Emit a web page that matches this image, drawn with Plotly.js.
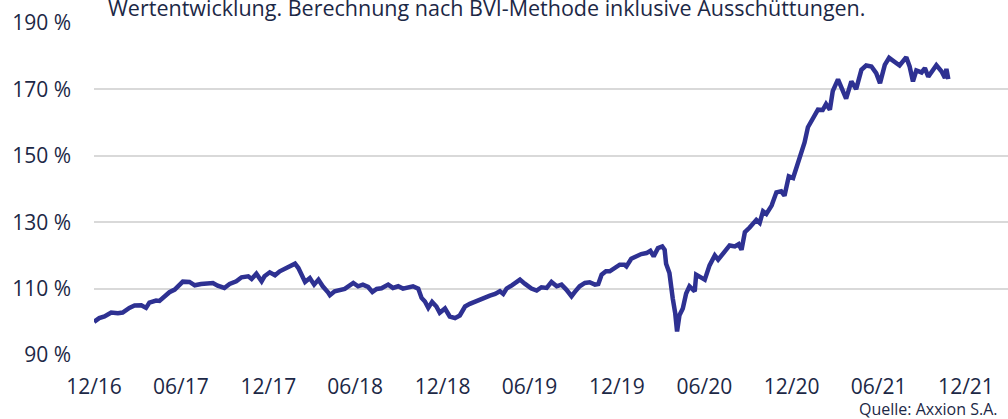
<!DOCTYPE html>
<html>
<head>
<meta charset="utf-8">
<script src="https://cdn.plot.ly/plotly-3.0.1.min.js"></script>
<style>
html,body{margin:0;padding:0;background:#fff;}
#chart{width:1008px;height:419px;}
</style>
</head>
<body>
<div id="chart"></div>
<script>
const dates = [
"2016-12-30","2017-01-10","2017-01-21","2017-02-04","2017-02-18","2017-02-28","2017-03-14","2017-03-25","2017-04-08","2017-04-18",
"2017-04-25","2017-05-09","2017-05-16","2017-05-27","2017-06-06","2017-06-17","2017-06-24","2017-07-04","2017-07-18","2017-07-29",
"2017-08-11","2017-08-25","2017-09-05","2017-09-15","2017-09-29","2017-10-10","2017-10-24","2017-11-04","2017-11-18","2017-11-25",
"2017-12-05","2017-12-16","2017-12-22","2018-01-02","2018-01-13","2018-01-23","2018-02-03","2018-02-13","2018-02-24","2018-03-03",
"2018-03-10","2018-03-17","2018-03-27","2018-04-05","2018-04-14","2018-04-23","2018-05-04","2018-05-08","2018-05-18","2018-05-29",
"2018-06-08","2018-06-26","2018-07-06","2018-07-16","2018-07-27","2018-08-05","2018-08-14","2018-08-24","2018-09-07","2018-09-17",
"2018-09-28","2018-10-08","2018-10-19","2018-10-29","2018-11-09","2018-11-16","2018-11-23","2018-11-30","2018-12-08","2018-12-17",
"2018-12-24","2019-01-04","2019-01-14","2019-01-25","2019-02-04","2019-02-15","2019-02-25","2019-03-08","2019-03-18","2019-03-29",
"2019-04-08","2019-04-19","2019-04-29","2019-05-06","2019-05-13","2019-05-24","2019-06-03","2019-06-10","2019-06-20","2019-07-04",
"2019-07-15","2019-07-25","2019-08-05","2019-08-15","2019-08-26","2019-09-05","2019-09-15","2019-09-26","2019-10-03","2019-10-13",
"2019-10-24","2019-11-03","2019-11-14","2019-11-21","2019-11-28","2019-12-07","2019-12-15","2019-12-26","2020-01-05","2020-01-15",
"2020-01-19","2020-01-29","2020-02-09","2020-02-19","2020-03-01","2020-03-09","2020-03-16","2020-03-25","2020-04-03","2020-04-08",
"2020-04-11","2020-04-18","2020-04-25","2020-04-30","2020-05-04","2020-05-09","2020-05-16","2020-05-23","2020-05-30","2020-06-06",
"2020-06-10","2020-06-13","2020-06-24","2020-07-01","2020-07-11","2020-07-22","2020-07-29","2020-08-08","2020-08-22","2020-09-02",
"2020-09-10","2020-09-16","2020-09-23","2020-10-03","2020-10-12","2020-10-17","2020-10-24","2020-10-31","2020-11-07","2020-11-18",
"2020-11-28","2020-12-08","2020-12-15","2020-12-24","2021-01-02","2021-01-09","2021-01-16","2021-01-26","2021-02-02","2021-02-12",
"2021-02-23","2021-03-05","2021-03-12","2021-03-20","2021-03-26","2021-04-06","2021-04-13","2021-04-23","2021-05-04","2021-05-14",
"2021-05-25","2021-06-04","2021-06-15","2021-06-25","2021-07-03","2021-07-13","2021-07-22","2021-08-03","2021-08-13","2021-08-27",
"2021-09-03","2021-09-10","2021-09-17","2021-09-28","2021-10-05","2021-10-12","2021-10-22","2021-10-29","2021-11-09","2021-11-16",
"2021-11-19","2021-11-23"
];
const values = [
100.0,101.1,101.6,102.8,102.6,102.8,104.2,104.9,105.0,104.2,
105.8,106.4,106.3,107.7,108.9,109.7,110.7,112.1,112.0,111.0,
111.4,111.5,111.7,110.9,110.2,111.4,112.2,113.4,113.7,112.9,
114.5,112.2,113.7,114.9,114.0,115.2,115.9,116.7,117.5,116.2,
113.7,112.0,113.2,111.2,112.7,110.7,108.9,108.0,109.2,109.5,
109.9,111.7,110.7,111.2,110.5,109.0,109.9,110.1,111.2,110.2,
110.7,110.0,110.4,110.7,110.0,107.2,106.1,104.2,106.0,104.6,
102.7,104.0,101.6,101.1,101.9,104.6,105.4,106.1,106.9,107.4,
107.9,108.4,109.2,108.4,110.0,111.0,112.2,112.7,111.5,110.0,
109.4,110.4,110.2,112.0,110.7,111.2,109.7,107.7,109.0,110.7,
111.7,111.9,111.2,111.4,114.2,115.2,115.2,116.4,117.2,117.2,
116.7,119.0,119.7,120.4,120.7,121.4,119.7,122.2,122.7,121.7,
117.5,114.7,107.0,102.7,97.1,102.0,104.0,108.5,110.7,110.0,
109.2,114.2,113.5,112.7,117.0,120.0,118.7,120.7,123.0,122.7,
123.4,121.7,127.0,128.4,129.8,130.7,129.8,133.3,132.5,135.0,
139.0,139.3,138.0,143.8,143.3,146.3,149.5,154.0,158.6,160.9,
163.9,163.8,165.6,163.9,169.5,173.0,170.9,167.2,172.4,170.1,
175.9,177.2,176.9,174.9,171.9,177.4,179.5,178.4,177.2,179.7,
176.9,172.4,175.7,175.1,176.4,173.8,175.7,177.3,175.4,173.4,
176.2,173.1
];
const yTickVals = [90,110,130,150,170,190];
const yTickText = ["90 %","110 %","130 %","150 %","170 %","190 %"];
const xTickVals = ["2016-12-30","2017-06-30","2017-12-30","2018-06-30","2018-12-30","2019-06-30","2019-12-30","2020-06-30","2020-12-30","2021-06-30","2021-12-30"];
const xTickText = ["12/16","06/17","12/17","06/18","12/18","06/19","12/19","06/20","12/20","06/21","12/21"];
const titleText = "Wertentwicklung. Berechnung nach BVI-Methode inklusive Ausschüttungen.";
const sourceText = "Quelle: Axxion S.A.";

const textColor = "#1c2846";
const fontFam = "'Open Sans', 'Noto Sans', sans-serif";

const trace = {
  x: dates, y: values, type: "scatter", mode: "lines",
  line: {color: "#2e3192", width: 4.5},
  hoverinfo: "skip"
};

const layout = {
  width: 1008, height: 419,
  margin: {l: 94, r: 0, t: 23, b: 64},
  paper_bgcolor: "#ffffff", plot_bgcolor: "#ffffff",
  showlegend: false,
  font: {family: fontFam, color: textColor, size: 21},
  xaxis: {
    type: "date",
    range: ["2016-12-30", "2022-03-28"],
    tickvals: xTickVals, ticktext: xTickText,
    showgrid: false, zeroline: false, showline: false,
    ticks: "", ticklabelstandoff: 17,
    tickfont: {family: fontFam, size: 21, color: textColor}
  },
  yaxis: {
    range: [90, 190],
    tickvals: yTickVals, ticktext: yTickText,
    showgrid: true, gridcolor: "#d9d9d9", gridwidth: 2,
    zeroline: false, showline: false,
    ticks: "", ticklabelstandoff: 22,
    tickfont: {family: fontFam, size: 21, color: textColor}
  },
  annotations: [
    {text: titleText, xref: "paper", yref: "paper", x: 12/914, y: (355-24)/332,
     xanchor: "left", yanchor: "bottom", showarrow: false,
     font: {family: fontFam, size: 21.5, color: textColor}},
    {text: sourceText, xref: "paper", yref: "paper", x: (999-94)/914, y: (355-409)/332,
     xanchor: "right", yanchor: "middle", showarrow: false,
     font: {family: fontFam, size: 16, color: textColor}}
  ]
};

Plotly.newPlot("chart", [trace], layout, {staticPlot: true, displayModeBar: false});
</script>
</body>
</html>
